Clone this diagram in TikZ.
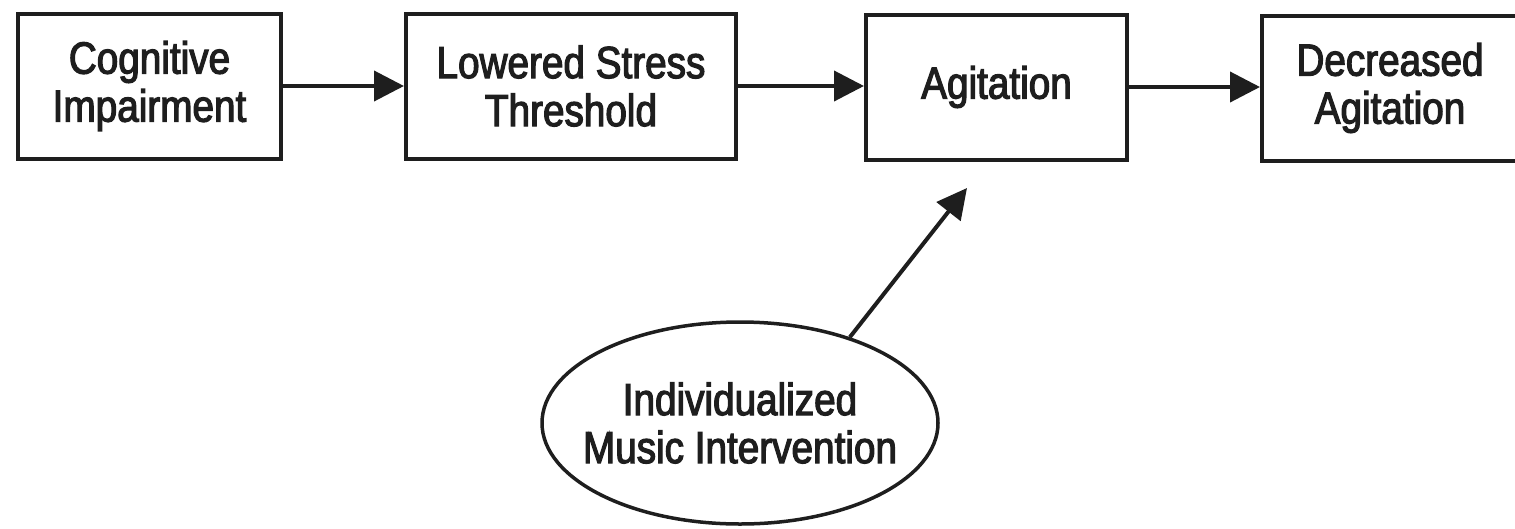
\documentclass[tikz,border=0pt]{standalone}
\usepackage{fontspec}
\setmainfont{Liberation Sans}[FakeStretch=0.86,FakeBold=2.6]
\usetikzlibrary{arrows.meta,shapes.geometric}
\definecolor{ink}{HTML}{1E1E1E}

\begin{document}
\begin{tikzpicture}[x=1pt,y=-1pt,
  label text/.style={font=\fontsize{45}{48}\selectfont, text=ink, align=center},
  stepbox/.style={label text, draw=ink, line width=4pt, rectangle,
    minimum height=145pt, inner sep=0pt},
  oval/.style={label text, draw=ink, line width=3.5pt, ellipse,
    minimum width=396pt, minimum height=202pt, inner xsep=-50pt, inner ysep=0pt},
  flow/.style={draw=ink, line width=4pt, -{Triangle[length=30pt,width=30pt]}}]

  \useasboundingbox (0,0) rectangle (1515,528);

  % the four stages of the chain
  \node[stepbox, minimum width=263pt] (cog) at (149.5,86) {Cognitive\\Impairment};
  \node[stepbox, minimum width=330pt] (stress) at (571,86) {Lowered Stress\\Threshold};
  \node[stepbox, minimum width=261pt] (agit) at (996.5,87) {Agitation};
  \node[stepbox, minimum width=256pt] (dec) at (1390,88) {Decreased\\Agitation};

  % the intervention acting on agitation
  \node[oval] (music) at (740,423) {Individualized\\Music Intervention};
  \coordinate (hit) at (967,188);

  \draw[flow] (cog.east) -- (stress.west |- cog.east);
  \draw[flow] (stress.east) -- (agit.west |- stress.east);
  \draw[flow] (agit.east) -- (dec.west |- agit.east);
  \draw[flow] (music.38) -- (hit);
\end{tikzpicture}
\end{document}
